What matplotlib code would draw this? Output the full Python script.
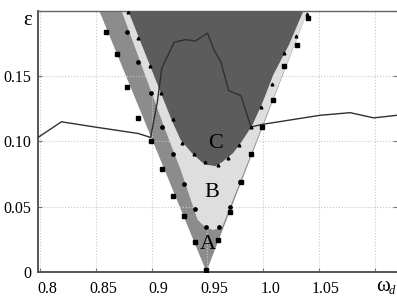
import matplotlib.pyplot as plt
import matplotlib.transforms as mtransforms

plt.rcParams['font.family'] = ['Liberation Serif', 'DejaVu Serif']

# region boundaries (omega_d, epsilon)
a_w = [0.853, 0.949, 1.040]
a_e = [0.200, 0.000, 0.200]

b_w = [0.873, 0.912, 0.926, 0.941, 0.948, 0.955, 0.963, 1.040]
b_e = [0.200, 0.109, 0.078, 0.040, 0.034, 0.032, 0.034, 0.200]

c_w = [0.879, 0.918, 0.926, 0.936, 0.945, 0.950, 0.957, 0.963, 0.973, 0.980,
       0.990, 0.999, 1.009, 1.023, 1.036]
c_e = [0.200, 0.116, 0.101, 0.091, 0.084, 0.082, 0.081, 0.084, 0.091, 0.099,
       0.112, 0.129, 0.151, 0.174, 0.200]

# boundary points
sq_w = [0.859, 0.869, 0.878, 0.888, 0.899, 0.909, 0.919, 0.929, 0.939, 0.949,
        0.959, 0.970, 0.980, 0.989, 0.999, 1.009, 1.019, 1.030, 1.040]
sq_e = [0.184, 0.167, 0.142, 0.118, 0.100, 0.079, 0.058, 0.043, 0.023, 0.001,
        0.024, 0.046, 0.069, 0.090, 0.111, 0.132, 0.158, 0.174, 0.195]

ci_w = [0.878, 0.888, 0.899, 0.909, 0.919, 0.929, 0.939, 0.949, 0.960, 0.970, 0.979]
ci_e = [0.184, 0.161, 0.137, 0.111, 0.090, 0.067, 0.048, 0.034, 0.034, 0.050, 0.069]

tr_w = [0.879, 0.888, 0.898, 0.908, 0.919, 0.927, 0.938, 0.948, 0.959, 0.968,
        0.978, 0.989, 0.998, 1.008, 1.019, 1.029, 1.039]
tr_e = [0.199, 0.179, 0.158, 0.137, 0.117, 0.099, 0.090, 0.084, 0.082, 0.087,
        0.097, 0.111, 0.126, 0.144, 0.168, 0.181, 0.198]

# curve
line_w = [0.798, 0.819, 0.849, 0.888, 0.899, 0.905, 0.909, 0.920, 0.930, 0.939,
          0.950, 0.956, 0.962, 0.969, 0.980, 0.989, 0.999, 1.051, 1.078, 1.099, 1.120]
line_e = [0.103, 0.115, 0.111, 0.106, 0.103, 0.130, 0.156, 0.176, 0.178, 0.177,
          0.183, 0.170, 0.161, 0.139, 0.135, 0.111, 0.113, 0.120, 0.122, 0.118, 0.120]

xticks = [0.8, 0.85, 0.9, 0.95, 1.0, 1.05, 1.1]
xlabels = ['0.8', '0.85', '0.9', '0.95', '1.0', '1.05', '']
yticks = [0, 0.05, 0.10, 0.15, 0.2]
ylabels = ['0', '0.05', '0.10', '0.15', '']

fig = plt.figure(figsize=(3.97, 3.0), dpi=100)
ax = fig.add_axes([38/397, 28.3/300, 358.5/397, 260.7/300])

ax.fill(a_w, a_e, color='#8c8c8c', lw=0, zorder=1)
ax.fill(b_w, b_e, color='#dedede', lw=0, zorder=2)
ax.fill(c_w, c_e, color='#5c5c5c', lw=0, zorder=3)

ax.plot(line_w, line_e, color='#303030', lw=1.0, zorder=4)

ax.plot(sq_w, sq_e, 's', color='black', ms=3.0, zorder=5)
ax.plot(ci_w, ci_e, 'o', color='black', ms=2.4, zorder=5)
ax.plot(tr_w, tr_e, '^', color='black', ms=2.0, zorder=5)

ax.text(0.9505, 0.021, 'A', fontsize=16, ha='center', va='center', zorder=6)
ax.text(0.9542, 0.061, 'B', fontsize=16, ha='center', va='center', zorder=6)
ax.text(0.9571, 0.098, 'C', fontsize=16, ha='center', va='center', zorder=6)

ax.set_xlim(0.798, 1.1195)
ax.set_ylim(0, 0.1996)
ax.set_xticks(xticks)
ax.set_xticklabels(xlabels, fontsize=11.5)
ax.set_yticks(yticks)
ax.set_yticklabels(ylabels, fontsize=11.5)

ax.tick_params(axis='both', direction='in', length=3, color='#777777', pad=5)
ax.tick_params(axis='x', pad=7)
ax.tick_params(right=True)
ax.grid(True, color='#c8c8c8', linestyle=':', lw=0.8)
for ln in ax.get_xgridlines() + ax.get_ygridlines():
    ln.set_zorder(0.5)

for s in ['left', 'bottom']:
    ax.spines[s].set_color('#555555')
    ax.spines[s].set_linewidth(1.4)
ax.spines['top'].set_color('#666666')
ax.spines['top'].set_linewidth(1.0)
ax.spines['right'].set_visible(False)

# axis symbols
ax.text(-0.028, 0.193, 'ε', fontsize=15, ha='center', va='center',
        transform=ax.get_yaxis_transform(), clip_on=False)
ax.text(1.107, -0.0115, 'ω', fontsize=15, ha='center', va='center',
        clip_on=False)
ax.text(1.1155, -0.015, 'd', fontsize=9, style='italic', ha='center',
        va='center', clip_on=False)

fig.canvas.draw()
off = mtransforms.ScaledTranslation(0.07, 0, fig.dpi_scale_trans)
for lab in ax.get_xticklabels():
    lab.set_transform(lab.get_transform() + off)

fig.savefig('out.png', dpi=100)
